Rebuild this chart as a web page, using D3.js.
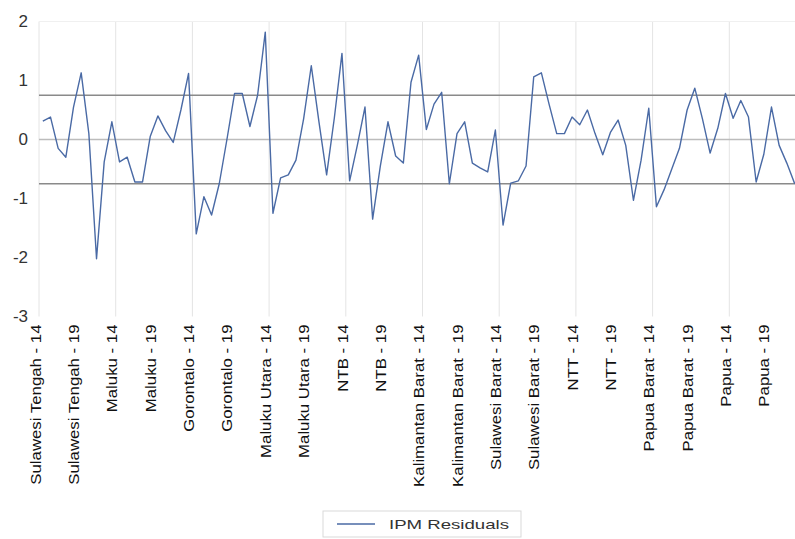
<!DOCTYPE html>
<html>
<head>
<meta charset="utf-8">
<script src="https://cdn.jsdelivr.net/npm/d3@7"></script>
<style>
  body { margin: 0; background: #fff; }
  svg text { font-family: "Liberation Sans", Arial, sans-serif; }
</style>
</head>
<body>
<svg id="chart"></svg>
<script>
const provinces = ["Sulawesi Tengah", "Maluku", "Gorontalo", "Maluku Utara", "NTB",
    "Kalimantan Barat", "Sulawesi Barat", "NTT", "Papua Barat", "Papua"];
const years = [14, 15, 16, 17, 18, 19, 20, 21, 22, 23];

// residuals, 10 per province
const residuals = [
    0.31, 0.38, -0.15, -0.30, 0.55, 1.13, 0.10, -2.02, -0.38, 0.30,
    -0.38, -0.30, -0.72, -0.72, 0.05, 0.40, 0.15, -0.05, 0.50, 1.12,
    -1.60, -0.97, -1.28, -0.75, 0.00, 0.78, 0.78, 0.22, 0.75, 1.82,
    -1.25, -0.65, -0.60, -0.35, 0.35, 1.25, 0.30, -0.60, 0.36, 1.46,
    -0.70, -0.10, 0.55, -1.35, -0.45, 0.30, -0.28, -0.40, 0.97, 1.43,
    0.17, 0.60, 0.80, -0.75, 0.10, 0.30, -0.40, -0.48, -0.55, 0.16,
    -1.45, -0.74, -0.70, -0.45, 1.06, 1.13, 0.60, 0.10, 0.10, 0.38,
    0.25, 0.50, 0.10, -0.26, 0.12, 0.33, -0.10, -1.03, -0.35, 0.53,
    -1.14, -0.85, -0.50, -0.15, 0.50, 0.87, 0.35, -0.23, 0.19, 0.78,
    0.36, 0.66, 0.38, -0.72, -0.25, 0.55, -0.10, -0.40, -0.74, -0.80
];

const yTicks = [2, 1, 0, -1, -2, -3];
const limits = [0.75, -0.75];
const seriesName = "IPM Residuals";

const width = 795, height = 539;
const margin = {top: 21.5, left: 39, bottom: 222.5};
const plotWidth = 767;
const stretch = 1.2;   // the labels look stretched along the text

const categories = provinces.flatMap(p => years.map(y => p + " - " + y));
const data = categories.map((c, i) => ({cat: c, value: residuals[i]}));

const svg = d3.select("#chart")
    .attr("width", width)
    .attr("height", height);

const x = d3.scaleBand()
    .domain(categories)
    .range([margin.left, margin.left + plotWidth]);

const y = d3.scaleLinear()
    .domain([-3, 2])
    .range([height - margin.bottom, margin.top]);

// vertical gridlines every 10 categories
const gridCats = categories.filter((d, i) => i % 10 === 0);
svg.append("g")
    .selectAll("line")
    .data(gridCats)
    .enter()
    .append("line")
    .attr("x1", d => x(d))
    .attr("x2", d => x(d))
    .attr("y1", y(2))
    .attr("y2", y(-3))
    .attr("stroke", "#e4e4e4")
    .attr("stroke-width", 1);

// top border
svg.append("line")
    .attr("x1", margin.left)
    .attr("x2", margin.left + plotWidth)
    .attr("y1", y(2))
    .attr("y2", y(2))
    .attr("stroke", "#f0f0f0");

// zero line
svg.append("line")
    .attr("x1", margin.left)
    .attr("x2", margin.left + plotWidth)
    .attr("y1", y(0))
    .attr("y2", y(0))
    .attr("stroke", "#bcbcbc")
    .attr("stroke-width", 1.5);

// +/- limit lines
svg.append("g")
    .selectAll("line")
    .data(limits)
    .enter()
    .append("line")
    .attr("x1", margin.left)
    .attr("x2", margin.left + plotWidth)
    .attr("y1", d => y(d))
    .attr("y2", d => y(d))
    .attr("stroke", "#8a8a8a")
    .attr("stroke-width", 1.3);

// y axis
svg.append("g")
    .attr("class", "y-axis")
    .attr("transform", "translate(" + (margin.left - 8) + ",0)")
    .call(d3.axisLeft(y).tickValues(yTicks).tickSize(0).tickFormat(d => String(d)))
    .call(g => g.select(".domain").remove())
    .selectAll("text")
    .style("font-size", "17px")
    .attr("fill", "#333");

// x axis, label every 5th category
svg.append("g")
    .attr("class", "x-axis")
    .attr("transform", "translate(0," + y(-3) + ")")
    .call(d3.axisBottom(x).tickValues(categories.filter((d, i) => i % 5 === 0)).tickSize(0))
    .call(g => g.select(".domain").remove())
    .selectAll("text")
    .attr("transform", "rotate(-90) scale(" + stretch + ",1)")
    .attr("text-anchor", "end")
    .attr("x", -8 / stretch)
    .attr("y", -7)
    .attr("dy", "0.35em")
    .style("font-size", "14px")
    .attr("fill", "#111");

// residual line
const line = d3.line()
    .x(d => x(d.cat) + x.bandwidth() / 2)
    .y(d => y(d.value));

svg.append("path")
    .datum(data)
    .attr("fill", "none")
    .attr("stroke", "#4a6aa5")
    .attr("stroke-width", 1.4)
    .attr("stroke-linejoin", "round")
    .attr("d", line);

// legend
const legend = svg.append("g")
    .attr("transform", "translate(323,511)");

legend.append("rect")
    .attr("width", 198)
    .attr("height", 26)
    .attr("fill", "#fff")
    .attr("stroke", "#d9d9d9");

legend.append("line")
    .attr("x1", 14)
    .attr("x2", 52)
    .attr("y1", 13)
    .attr("y2", 13)
    .attr("stroke", "#4a6aa5")
    .attr("stroke-width", 1.4);

legend.append("text")
    .attr("x", 66)
    .attr("y", 13)
    .attr("dy", "0.35em")
    .attr("textLength", 120)
    .attr("lengthAdjust", "spacingAndGlyphs")
    .style("font-size", "13px")
    .attr("fill", "#333")
    .text(seriesName);
</script>
</body>
</html>
